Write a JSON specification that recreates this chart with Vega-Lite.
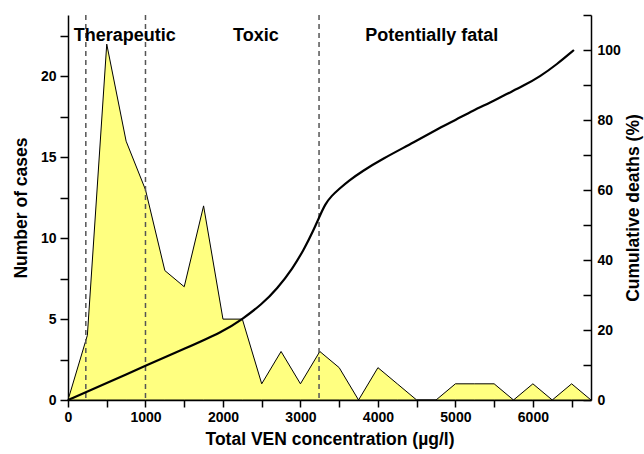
{
  "$schema": "https://vega.github.io/schema/vega-lite/v6.json",
  "width": 523,
  "height": 385,
  "autosize": {"type": "none"},
  "padding": {"left": 68, "top": 15, "right": 53, "bottom": 54},
  "background": "white",
  "config": {
    "view": {"stroke": null},
    "font": "Liberation Sans",
    "axis": {
      "grid": false,
      "domainColor": "black",
      "domainWidth": 1.5,
      "tickColor": "black",
      "tickWidth": 1.5,
      "tickSize": 7,
      "labelFont": "Liberation Sans",
      "labelFontWeight": "bold",
      "labelFontSize": 14,
      "labelColor": "black",
      "titleFont": "Liberation Sans",
      "titleFontWeight": "bold",
      "titleFontSize": 17.5,
      "titleColor": "black"
    }
  },
  "datasets": {
    "cases": [
      {"conc": 0, "cases": 0}, {"conc": 250, "cases": 4}, {"conc": 500, "cases": 22},
      {"conc": 750, "cases": 16}, {"conc": 1000, "cases": 13}, {"conc": 1250, "cases": 8},
      {"conc": 1500, "cases": 7}, {"conc": 1750, "cases": 12}, {"conc": 2000, "cases": 5},
      {"conc": 2250, "cases": 5}, {"conc": 2500, "cases": 1}, {"conc": 2750, "cases": 3},
      {"conc": 3000, "cases": 1}, {"conc": 3250, "cases": 3}, {"conc": 3500, "cases": 2},
      {"conc": 3750, "cases": 0}, {"conc": 4000, "cases": 2}, {"conc": 4250, "cases": 1},
      {"conc": 4500, "cases": 0}, {"conc": 4750, "cases": 0}, {"conc": 5000, "cases": 1},
      {"conc": 5250, "cases": 1}, {"conc": 5500, "cases": 1}, {"conc": 5750, "cases": 0},
      {"conc": 6000, "cases": 1}, {"conc": 6250, "cases": 0}, {"conc": 6500, "cases": 1},
      {"conc": 6750, "cases": 0}
    ],
    "deaths": [
      {"conc": 0, "pct": 0}, {"conc": 500, "pct": 4.8}, {"conc": 1000, "pct": 9.8},
      {"conc": 1500, "pct": 14.6}, {"conc": 2000, "pct": 19.5}, {"conc": 2250, "pct": 23.1},
      {"conc": 2500, "pct": 27.3}, {"conc": 2700, "pct": 31.8}, {"conc": 2900, "pct": 37.6},
      {"conc": 3050, "pct": 43.2}, {"conc": 3170, "pct": 48.6}, {"conc": 3250, "pct": 52.6},
      {"conc": 3320, "pct": 56.0}, {"conc": 3400, "pct": 58.3}, {"conc": 3500, "pct": 60.3},
      {"conc": 3620, "pct": 62.6}, {"conc": 3800, "pct": 65.4}, {"conc": 4050, "pct": 68.8},
      {"conc": 4480, "pct": 73.8}, {"conc": 4800, "pct": 77.8}, {"conc": 5000, "pct": 80.0},
      {"conc": 5230, "pct": 82.7}, {"conc": 5450, "pct": 85.0}, {"conc": 5660, "pct": 87.4},
      {"conc": 5880, "pct": 89.8}, {"conc": 6090, "pct": 92.4}, {"conc": 6310, "pct": 95.9},
      {"conc": 6530, "pct": 100}
    ],
    "thresholds": [{"conc": 230}, {"conc": 1000}, {"conc": 3240}],
    "labels": [
      {"conc": 733, "y": 22.5, "text": "Therapeutic"},
      {"conc": 2425, "y": 22.5, "text": "Toxic"},
      {"conc": 4695, "y": 22.5, "text": "Potentially fatal"}
    ]
  },
  "layer": [
    {
      "data": {"name": "cases"},
      "mark": {"type": "area", "color": "#FFFF80", "stroke": "black", "strokeWidth": 1, "fillOpacity": 1},
      "encoding": {
        "x": {
          "field": "conc", "type": "quantitative",
          "scale": {"domain": [0, 6750], "nice": false, "zero": true},
          "axis": {
            "title": "Total VEN concentration (µg/l)",
            "values": [0, 500, 1000, 1500, 2000, 2500, 3000, 3500, 4000, 4500, 5000, 5500, 6000, 6500],
            "labelExpr": "datum.value % 1000 === 0 ? datum.value : ''",
            "labelPadding": 3,
            "titlePadding": 6,
            "labelFlush": false,
            "labelOverlap": false
          }
        },
        "y": {
          "field": "cases", "type": "quantitative",
          "scale": {"domain": [0, 23.8], "nice": false},
          "axis": {
            "title": "Number of cases",
            "values": [0, 2.5, 5, 7.5, 10, 12.5, 15, 17.5, 20, 22.5],
            "labelExpr": "datum.value % 5 === 0 ? datum.value : ''",
            "labelPadding": 4,
            "titlePadding": 10,
            "tickSize": 8,
            "labelOverlap": false
          }
        }
      }
    },
    {
      "data": {"name": "thresholds"},
      "mark": {"type": "rule", "color": "#555555", "strokeWidth": 1.5, "strokeDash": [5, 4]},
      "encoding": {
        "x": {"field": "conc", "type": "quantitative"}
      }
    },
    {
      "data": {"name": "deaths"},
      "mark": {"type": "line", "color": "black", "strokeWidth": 2.2, "interpolate": "basis"},
      "encoding": {
        "x": {"field": "conc", "type": "quantitative"},
        "y": {
          "field": "pct", "type": "quantitative",
          "scale": {"domain": [0, 110], "nice": false},
          "axis": {
            "orient": "right",
            "title": "Cumulative deaths (%)",
            "titleAngle": 270,
            "values": [0, 10, 20, 30, 40, 50, 60, 70, 80, 90, 100, 110],
            "labelExpr": "datum.value % 20 === 0 && datum.value <= 100 ? datum.value : ''",
            "tickSize": -8,
            "labelPadding": 14,
            "titlePadding": 22,
            "labelOverlap": false
          }
        }
      }
    },
    {
      "data": {"name": "labels"},
      "mark": {"type": "text", "font": "Liberation Sans", "fontWeight": "bold", "fontSize": 18, "color": "black", "baseline": "middle", "align": "center"},
      "encoding": {
        "x": {"field": "conc", "type": "quantitative"},
        "y": {"field": "y", "type": "quantitative", "scale": {"domain": [0, 23.8], "nice": false}, "axis": null},
        "text": {"field": "text"}
      }
    }
  ],
  "resolve": {"scale": {"y": "independent"}}
}
